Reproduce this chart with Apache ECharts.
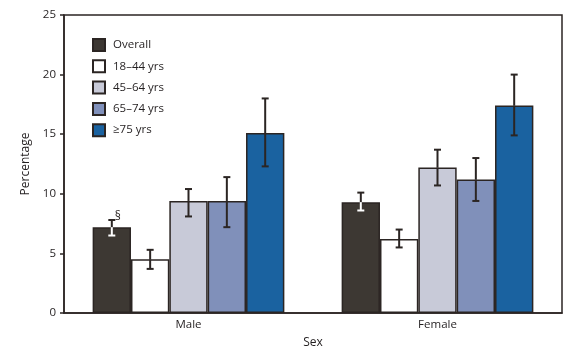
<!DOCTYPE html>
<html>
<head>
<meta charset="utf-8">
<script src="https://cdn.jsdelivr.net/npm/echarts@6/dist/echarts.min.js"></script>
<style>
  html, body { margin: 0; padding: 0; background: #fff; }
  #chart { width: 582px; height: 352px; }
</style>
</head>
<body>
<div id="chart"></div>
<script>
// data
const categories = ['Male', 'Female'];
const groups = ['Overall', '18\u201344 yrs', '45\u201364 yrs', '65\u201374 yrs', '\u226575 yrs'];
const colors = ['#3d3833', '#ffffff', '#c8cad8', '#8090ba', '#1a62a0'];
const values = [
  [7.2, 9.3],
  [4.5, 6.2],
  [9.4, 12.2],
  [9.4, 11.2],
  [15.1, 17.4]
];
const lower = [
  [6.5, 8.6],
  [3.7, 5.5],
  [8.1, 10.7],
  [7.2, 9.4],
  [12.3, 14.9]
];
const upper = [
  [7.8, 10.1],
  [5.3, 7.0],
  [10.4, 13.7],
  [11.4, 13.0],
  [18.0, 20.0]
];
const notes = [['\u00a7', ''], ['', ''], ['', ''], ['', ''], ['', '']];
const yTicks = [0, 5, 10, 15, 20, 25];

const ink = '#2b2523';
const font = '"Open Sans", "Noto Sans", sans-serif';
const catGap = 0.23;

const series = [];
groups.forEach(function (g, i) {
  series.push({
    name: g,
    type: 'bar',
    data: values[i],
    barGap: '0%',
    barCategoryGap: (catGap * 100) + '%',
    itemStyle: { color: colors[i], borderColor: ink, borderWidth: 1.5 },
    emphasis: { disabled: true },
    z: 2
  });
});

groups.forEach(function (g, i) {
  // inside-bar part of the whisker is white on the dark bar
  const innerColor = i === 0 ? '#ffffff' : ink;
  series.push({
    type: 'custom',
    name: g + ' CI',
    data: categories.map(function (c, k) {
      return [k, lower[i][k], upper[i][k], values[i][k], notes[i][k]];
    }),
    encode: { x: 0, y: [1, 2] },
    z: 5,
    silent: true,
    renderItem: function (params, api) {
      const k = api.value(0);
      const band = api.size([1, 0])[0];
      const groupW = band * (1 - catGap);
      const barW = groupW / groups.length;
      const center = api.coord([k, 0])[0];
      const x = center - groupW / 2 + barW * (i + 0.5);
      const yLo = api.coord([k, api.value(1)])[1];
      const yHi = api.coord([k, api.value(2)])[1];
      const yVal = api.coord([k, api.value(3)])[1];
      const cap = 3.5;
      const st = { stroke: ink, lineWidth: 2 };
      const stIn = { stroke: innerColor, lineWidth: 2 };
      const children = [
        { type: 'line', shape: { x1: x, y1: yHi, x2: x, y2: yVal }, style: st },
        { type: 'line', shape: { x1: x, y1: yVal, x2: x, y2: yLo }, style: stIn },
        { type: 'line', shape: { x1: x - cap, y1: yHi, x2: x + cap, y2: yHi }, style: st },
        { type: 'line', shape: { x1: x - cap, y1: yLo, x2: x + cap, y2: yLo }, style: stIn }
      ];
      const note = api.value(4);
      if (note) {
        children.push({
          type: 'text',
          style: { x: x + 6, y: yHi - 3, text: note, fill: ink, font: '12px ' + font, textAlign: 'center', textVerticalAlign: 'middle' }
        });
      }
      return { type: 'group', children: children };
    }
  });
});

const chart = echarts.init(document.getElementById('chart'));
chart.setOption({
  animation: false,
  textStyle: { fontFamily: font },
  grid: {
    left: 64, right: 20, top: 15, bottom: 39,
    outerBoundsMode: 'none',
    containLabel: false,
    show: true, borderColor: ink, borderWidth: 1.5, backgroundColor: 'transparent'
  },
  legend: {
    data: groups,
    orient: 'vertical',
    left: 87, top: 33,
    itemWidth: 12, itemHeight: 12, itemGap: 7.3,
    icon: 'rect',
    selectedMode: false,
    textStyle: { fontSize: 11.5, color: '#231f20', fontFamily: font, padding: [0, 0, 0, 3] }
  },
  xAxis: {
    type: 'category',
    data: categories,
    name: 'Sex',
    nameLocation: 'middle',
    nameGap: 24,
    nameTextStyle: { fontSize: 12, color: '#231f20' },
    axisLine: { lineStyle: { color: ink, width: 1.5 } },
    axisTick: { alignWithLabel: true, length: 4, lineStyle: { color: ink, width: 1.5 } },
    axisLabel: { fontSize: 11.5, color: '#231f20', margin: 6 },
    splitLine: { show: false }
  },
  yAxis: {
    type: 'value',
    min: yTicks[0], max: yTicks[yTicks.length - 1], interval: 5,
    name: 'Percentage',
    nameLocation: 'middle',
    nameGap: 29,
    nameTextStyle: { fontSize: 12, color: '#231f20' },
    axisLine: { show: true, lineStyle: { color: ink, width: 1.5 } },
    axisTick: { show: true, length: 4, lineStyle: { color: ink, width: 1.5 } },
    axisLabel: { fontSize: 11.5, color: '#231f20', margin: 8 },
    splitLine: { show: false }
  },
  series: series
});
</script>
</body>
</html>
